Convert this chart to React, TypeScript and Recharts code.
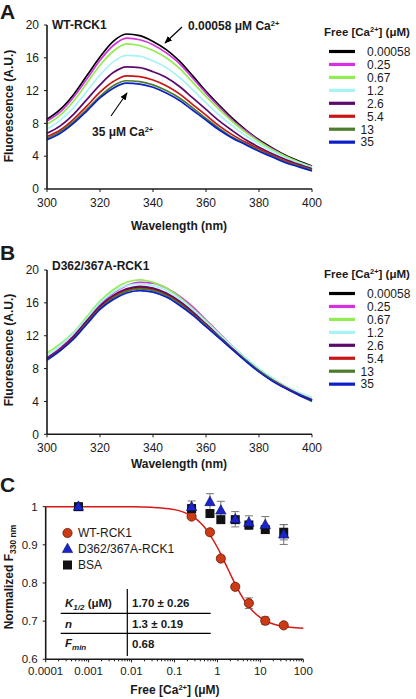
import React from "react";
import {
  LineChart,
  Line,
  XAxis,
  YAxis,
  Legend,
  ComposedChart,
  Scatter,
  ErrorBar,
  ReferenceLine,
} from "recharts";

const FONT = "'Liberation Sans', Arial, Helvetica, sans-serif";
const INK = "#1a1a1a";

// emission spectra, 300-400 nm every 5 nm
const wavelengths = [300, 305, 310, 315, 320, 325, 330, 335, 340, 345, 350, 355, 360, 365, 370, 375, 380, 385, 390, 395, 400];
const caLabels = ["0.00058", "0.25", "0.67", "1.2", "2.6", "5.4", "13", "35"];
const caColors = ["#000000", "#d630e0", "#90ee50", "#a6f3f3", "#5c0a6c", "#c81616", "#4b7c2b", "#0c1fc8"];

// panel A, WT-RCK1
const wtSpectra = [
  [8.5, 9.7, 11.5, 13.8, 16.1, 18.0, 18.9, 18.7, 18.0, 17.0, 15.6, 13.8, 11.9, 10.2, 8.6, 7.2, 6.0, 5.0, 4.1, 3.4, 2.8],
  [8.3, 9.4, 11.2, 13.4, 15.7, 17.5, 18.4, 18.2, 17.6, 16.6, 15.3, 13.5, 11.7, 10.0, 8.4, 7.1, 5.9, 4.9, 4.0, 3.3, 2.75],
  [7.9, 9.0, 10.7, 12.9, 15.1, 16.8, 17.7, 17.5, 16.9, 16.0, 14.7, 13.0, 11.3, 9.7, 8.2, 6.9, 5.8, 4.8, 4.0, 3.3, 2.7],
  [7.3, 8.4, 9.9, 11.9, 13.9, 15.5, 16.3, 16.2, 15.6, 14.8, 13.6, 12.1, 10.5, 9.0, 7.7, 6.5, 5.5, 4.6, 3.8, 3.2, 2.6],
  [6.8, 7.7, 9.1, 10.9, 12.7, 14.2, 14.9, 14.8, 14.3, 13.6, 12.5, 11.1, 9.7, 8.3, 7.1, 6.0, 5.1, 4.3, 3.6, 3.0, 2.45],
  [6.4, 7.2, 8.5, 10.1, 11.8, 13.1, 13.8, 13.7, 13.3, 12.6, 11.6, 10.3, 9.0, 7.7, 6.6, 5.7, 4.9, 4.1, 3.4, 2.9, 2.35],
  [6.2, 7.0, 8.2, 9.7, 11.3, 12.6, 13.2, 13.1, 12.7, 12.0, 11.1, 9.9, 8.6, 7.4, 6.3, 5.5, 4.7, 4.0, 3.3, 2.8, 2.3],
  [6.0, 6.8, 8.0, 9.5, 11.1, 12.3, 12.9, 12.8, 12.4, 11.7, 10.8, 9.6, 8.4, 7.2, 6.2, 5.4, 4.6, 3.9, 3.2, 2.7, 2.2],
];

// panel B, D362/367A-RCK1
const mutSpectra = [
  [9.2, 10.4, 11.8, 13.7, 15.5, 16.8, 17.6, 17.9, 17.7, 17.1, 16.1, 14.8, 13.4, 11.9, 10.4, 9.0, 7.7, 6.6, 5.7, 4.9, 4.2],
  [9.3, 10.5, 12.0, 13.9, 15.8, 17.2, 18.1, 18.5, 18.4, 17.8, 16.8, 15.5, 13.9, 12.3, 10.7, 9.2, 7.9, 6.8, 5.8, 4.9, 4.2],
  [9.9, 11.0, 12.4, 14.3, 16.2, 17.6, 18.5, 18.8, 18.5, 17.8, 16.7, 15.3, 13.8, 12.2, 10.7, 9.2, 7.9, 6.8, 5.8, 5.0, 4.3],
  [9.6, 10.8, 12.3, 14.1, 16.0, 17.3, 18.1, 18.3, 18.1, 17.5, 16.5, 15.2, 13.7, 12.2, 10.7, 9.3, 8.0, 6.9, 5.9, 5.1, 4.5],
  [9.3, 10.4, 11.9, 13.8, 15.6, 16.9, 17.7, 18.0, 17.8, 17.2, 16.2, 14.9, 13.4, 11.9, 10.4, 9.0, 7.7, 6.6, 5.7, 4.9, 4.2],
  [9.2, 10.3, 11.7, 13.6, 15.4, 16.7, 17.5, 17.8, 17.6, 17.0, 16.0, 14.7, 13.3, 11.8, 10.4, 9.0, 7.7, 6.6, 5.7, 4.8, 4.1],
  [9.0, 10.2, 11.6, 13.5, 15.3, 16.6, 17.4, 17.7, 17.5, 16.9, 15.9, 14.6, 13.2, 11.8, 10.3, 9.0, 7.7, 6.6, 5.6, 4.8, 4.0],
  [9.1, 10.2, 11.6, 13.4, 15.2, 16.4, 17.2, 17.5, 17.3, 16.7, 15.7, 14.5, 13.1, 11.7, 10.3, 8.9, 7.6, 6.5, 5.6, 4.8, 4.1],
];

const specXTicks = [300, 320, 340, 360, 380, 400];
const specYTicks = [0, 4, 8, 12, 16, 20];

// panel C, normalized F330 vs free Ca
const freeCa = [0.00058, 0.25, 0.67, 1.2, 2.6, 5.4, 13, 35];
const wtNorm = [1, 0.974, 0.933, 0.864, 0.79, 0.747, 0.701, 0.689];
const wtErr = [0, 0.005, 0.005, 0.005, 0.006, 0.014, 0.01, 0.005];
const mutNorm = [1, 0.999, 1.012, 0.99, 0.967, 0.958, 0.952, 0.927];
const mutErr = [0, 0.016, 0.022, 0.024, 0.02, 0.018, 0.022, 0.026];
const bsaNorm = [1, 0.995, 0.982, 0.966, 0.966, 0.952, 0.94, 0.933];
const bsaErr = [0, 0.006, 0.006, 0.005, 0.006, 0.006, 0.005, 0.02];

// fitted curve as drawn
const fitCa = [0.0001, 0.001, 0.01, 0.03, 0.05, 0.1, 0.15, 0.2, 0.3, 0.4, 0.5, 0.7, 1, 1.3, 1.7, 2.2, 3, 4, 5, 7, 10, 15, 20, 30, 50, 100];
const fitNorm = [1, 1, 0.9996, 0.9983, 0.9968, 0.9922, 0.9869, 0.981, 0.97, 0.9577, 0.946, 0.923, 0.893, 0.8676, 0.84, 0.8134, 0.7835, 0.7592, 0.743, 0.724, 0.709, 0.6978, 0.6925, 0.6875, 0.6839, 0.6816];

const logDecades = [0.0001, 0.001, 0.01, 0.1, 1, 10, 100];
const normTicks = [0.6, 0.7, 0.8, 0.9, 1];

const logTicks = [
  ...logDecades,
  ...logDecades.slice(0, -1).flatMap((d) => [2, 3, 4, 5, 6, 7, 8, 9].map((m) => +(d * m).toPrecision(3))),
].sort((a, b) => a - b);

const tickStyle = { fontSize: 12, fill: INK, fontFamily: FONT };

function spectrumRows(spectra: number[][]) {
  return wavelengths.map((wl, i) => {
    const row: Record<string, number> = { wl };
    spectra.forEach((s, k) => {
      row["s" + k] = s[i];
    });
    return row;
  });
}

const CaSup = () => (
  <>
    Ca
    <tspan dy={-4} fontSize={7.5}>
      2+
    </tspan>
    <tspan dy={4}> </tspan>
  </>
);

const SpectrumLegend = () => (
  <svg width={98} height={132} style={{ fontFamily: FONT, overflow: "visible" }}>
    <text x={6} y={14} fontSize={11.5} fontWeight="bold" fill={INK}>
      Free [Ca
      <tspan dy={-4} fontSize={7.5}>
        2+
      </tspan>
      <tspan dy={4}>] (μM)</tspan>
    </text>
    {caLabels.map((c, k) => {
      const y = 29.5 + k * 12.95;
      const indent = c.includes(".") ? 49 : 42.5;
      return (
        <g key={c}>
          <line x1={11} x2={37} y1={y} y2={y} stroke={caColors[k]} strokeWidth={3.2} />
          <text x={indent} y={y + 4.3} fontSize={12} fill={INK}>
            {c}
          </text>
        </g>
      );
    })}
  </svg>
);

function SpectrumPanel({ spectra, top, marginTop, marginBottom }: { spectra: number[][]; top: number; marginTop: number; marginBottom: number }) {
  const rows = spectrumRows(spectra);
  return (
    <div style={{ position: "absolute", left: 0, top }}>
      <LineChart width={416} height={240} data={rows} margin={{ top: marginTop, right: 104, bottom: marginBottom, left: 7 }}>
        <XAxis
          dataKey="wl"
          type="number"
          domain={[300, 400]}
          ticks={specXTicks}
          tick={tickStyle}
          tickSize={3}
          tickMargin={6}
          height={30}
          axisLine={{ stroke: INK, strokeWidth: 1.6 }}
          tickLine={{ stroke: INK }}
        />
        <YAxis
          type="number"
          domain={[0, 20]}
          ticks={specYTicks}
          tick={tickStyle}
          tickSize={3}
          tickMargin={5}
          width={40}
          axisLine={{ stroke: INK, strokeWidth: 1.6 }}
          tickLine={{ stroke: INK }}
        />
        {caLabels.map((c, k) => (
          <Line
            key={c}
            type="monotone"
            dataKey={"s" + k}
            stroke={caColors[k]}
            strokeWidth={1.7}
            dot={false}
            isAnimationActive={false}
          />
        ))}
        <Legend
          layout="horizontal"
          align="center"
          verticalAlign="middle"
          content={() => <SpectrumLegend />}
          wrapperStyle={{ left: 318, top: 22 - (top === 0 ? 0 : -2), width: 98, height: 132 }}
        />
      </LineChart>
    </div>
  );
}

const LogTick = (props: any) => {
  const { x, y, payload } = props;
  const v = payload.value;
  const major = logDecades.includes(v);
  const axisY = y - 8;
  return (
    <g>
      <line x1={x} x2={x} y1={axisY} y2={axisY + (major ? 3 : 2)} stroke={INK} strokeWidth={1} />
      {major && (
        <text x={x} y={y} dy="0.71em" textAnchor="middle" fontSize={11.5} fill={INK} fontFamily={FONT}>
          {String(v)}
        </text>
      )}
    </g>
  );
};

const circleShape = (p: any) => <circle cx={p.cx} cy={p.cy} r={4.6} fill="#cc3a16" stroke="#6a1806" strokeWidth={0.8} />;
const squareShape = (p: any) => <rect x={p.cx - 4.5} y={p.cy - 4.5} width={9} height={9} fill="#111111" />;
const triangleShape = (p: any) => (
  <polygon
    points={`${p.cx},${p.cy - 5.8} ${p.cx - 5.2},${p.cy + 3.6} ${p.cx + 5.2},${p.cy + 3.6}`}
    fill="#1b24cc"
    stroke="#0a0d55"
    strokeWidth={0.6}
  />
);

const titrationLegend = [
  { name: "WT-RCK1", shape: "circle" },
  { name: "D362/367A-RCK1", shape: "triangle" },
  { name: "BSA", shape: "square" },
];

const TitrationLegend = () => (
  <svg width={110} height={50} style={{ fontFamily: FONT, overflow: "visible" }}>
    {titrationLegend.map((item, k) => {
      const y = 8 + k * 16;
      return (
        <g key={item.name}>
          {item.shape === "circle" && circleShape({ cx: 7.5, cy: y })}
          {item.shape === "triangle" && triangleShape({ cx: 7.5, cy: y })}
          {item.shape === "square" && squareShape({ cx: 7.5, cy: y })}
          <text x={18} y={y + 4.3} fontSize={12} fill={INK}>
            {item.name}
          </text>
        </g>
      );
    })}
  </svg>
);

function TitrationPanel() {
  const fitRows = fitCa.map((x, i) => ({ x, y: fitNorm[i] }));
  const wtRows = freeCa.slice(1).map((x, i) => ({ x, y: wtNorm[i + 1], err: wtErr[i + 1] }));
  const mutRows = freeCa.map((x, i) => ({ x, y: mutNorm[i], err: mutErr[i] }));
  const bsaRows = freeCa.map((x, i) => ({ x, y: bsaNorm[i], err: bsaErr[i] }));
  return (
    <div style={{ position: "absolute", left: 0, top: 460 }}>
      <ComposedChart width={416} height={239} margin={{ top: 31.4, right: 112.7, bottom: 14.7, left: 5.7 }}>
        <XAxis
          dataKey="x"
          type="number"
          scale="log"
          domain={[0.0001, 100]}
          ticks={logTicks}
          interval={0}
          tick={<LogTick />}
          tickLine={false}
          tickSize={3}
          tickMargin={5}
          height={25}
          axisLine={{ stroke: INK, strokeWidth: 1.6 }}
        />
        <YAxis
          dataKey="y"
          type="number"
          domain={[0.6, 1.04]}
          ticks={normTicks}
          tick={{ ...tickStyle, fontSize: 11.5 }}
          tickSize={3}
          tickMargin={5}
          width={40}
          axisLine={false}
          tickLine={{ stroke: INK }}
        />
        <ReferenceLine
          segment={[
            { x: 0.0001, y: 0.6 },
            { x: 0.0001, y: 1 },
          ]}
          stroke={INK}
          strokeWidth={1.6}
          ifOverflow="visible"
        />
        <Line data={fitRows} dataKey="y" type="monotone" stroke="#d81818" strokeWidth={1.5} dot={false} isAnimationActive={false} />
        <Scatter data={wtRows} dataKey="y" shape={circleShape} isAnimationActive={false}>
          <ErrorBar dataKey="err" direction="y" width={4} stroke="#777777" strokeWidth={1} />
        </Scatter>
        <Scatter data={bsaRows} dataKey="y" shape={squareShape} isAnimationActive={false}>
          <ErrorBar dataKey="err" direction="y" width={4} stroke="#777777" strokeWidth={1} />
        </Scatter>
        <Scatter data={mutRows} dataKey="y" shape={triangleShape} isAnimationActive={false}>
          <ErrorBar dataKey="err" direction="y" width={4} stroke="#777777" strokeWidth={1} />
        </Scatter>
        <Legend
          layout="horizontal"
          align="center"
          verticalAlign="middle"
          content={() => <TitrationLegend />}
          wrapperStyle={{ left: 60, top: 65, width: 110, height: 50 }}
        />
      </ComposedChart>
    </div>
  );
}

function Annotations() {
  const bold = { fontFamily: FONT, fontWeight: "bold" as const, fill: INK };
  return (
    <svg width={416} height={699} style={{ position: "absolute", left: 0, top: 0, pointerEvents: "none" }}>
      <defs>
        <marker id="head" viewBox="0 0 10 10" refX="9" refY="5" markerWidth="7" markerHeight="7" orient="auto">
          <path d="M0,1 L10,5 L0,9 z" fill="#000" />
        </marker>
      </defs>

      {/* panel letters */}
      <text x={0} y={19} fontSize={21} {...bold}>A</text>
      <text x={0} y={260} fontSize={21} {...bold}>B</text>
      <text x={0} y={492} fontSize={21} {...bold}>C</text>

      {/* panel A */}
      <text x={52} y={29} fontSize={12} {...bold}>WT-RCK1</text>
      <text x={188} y={30} fontSize={12} {...bold}>
        0.00058 μM <CaSup />
      </text>
      <line x1={182} y1={27} x2={165} y2={43} stroke="#000" strokeWidth={1.1} markerEnd="url(#head)" />
      <text x={92} y={136} fontSize={12} {...bold}>
        35 μM <CaSup />
      </text>
      <line x1={111} y1={116} x2={127} y2={93} stroke="#000" strokeWidth={1.1} markerEnd="url(#head)" />
      <text transform="translate(13,106) rotate(-90)" textAnchor="middle" fontSize={12} {...bold}>
        Fluorescence (A.U.)
      </text>
      <text x={179} y={230} textAnchor="middle" fontSize={12} {...bold}>
        Wavelength (nm)
      </text>

      {/* panel B */}
      <text x={52} y={270} fontSize={12} {...bold}>D362/367A-RCK1</text>
      <text transform="translate(13,350) rotate(-90)" textAnchor="middle" fontSize={12} {...bold}>
        Fluorescence (A.U.)
      </text>
      <text x={179} y={468} textAnchor="middle" fontSize={12} {...bold}>
        Wavelength (nm)
      </text>

      {/* panel C */}
      <text transform="translate(13,577) rotate(-90)" textAnchor="middle" fontSize={12} {...bold}>
        Normalized F
        <tspan dy={3} fontSize={8.5}>
          330 nm
        </tspan>
      </text>
      <text x={175} y={694} textAnchor="middle" fontSize={12} {...bold}>
        Free [Ca
        <tspan dy={-4} fontSize={7.5}>
          2+
        </tspan>
        <tspan dy={4}>] (μM)</tspan>
      </text>

      {/* fit parameter table */}
      <line x1={127.3} x2={127.3} y1={589} y2={656} stroke="#000" strokeWidth={1.2} />
      <line x1={60.7} x2={210.7} y1={613.3} y2={613.3} stroke="#000" strokeWidth={1.2} />
      <line x1={60.7} x2={210.7} y1={633.3} y2={633.3} stroke="#000" strokeWidth={1.2} />
      <text x={65} y={607} fontSize={11.5} {...bold}>
        <tspan fontStyle="italic">K</tspan>
        <tspan fontStyle="italic" fontSize={8} dy={3}>1/2</tspan>
        <tspan dy={-3}> (μM)</tspan>
      </text>
      <text x={132} y={607} fontSize={11.5} {...bold}>1.70 ± 0.26</text>
      <text x={65} y={628} fontSize={11.5} fontStyle="italic" {...bold}>n</text>
      <text x={132} y={628} fontSize={11.5} {...bold}>1.3 ± 0.19</text>
      <text x={65} y={647} fontSize={11.5} {...bold}>
        <tspan fontStyle="italic">F</tspan>
        <tspan fontStyle="italic" fontSize={8} dy={3}>min</tspan>
      </text>
      <text x={132} y={648} fontSize={11.5} {...bold}>0.68</text>
    </svg>
  );
}

export default function App() {
  return (
    <div style={{ position: "absolute", left: 0, top: 0, width: 416, height: 699, background: "#fff", fontFamily: FONT }}>
      <SpectrumPanel spectra={wtSpectra} top={0} marginTop={25} marginBottom={21} />
      <SpectrumPanel spectra={mutSpectra} top={240} marginTop={30} marginBottom={15.7} />
      <TitrationPanel />
      <Annotations />
    </div>
  );
}
